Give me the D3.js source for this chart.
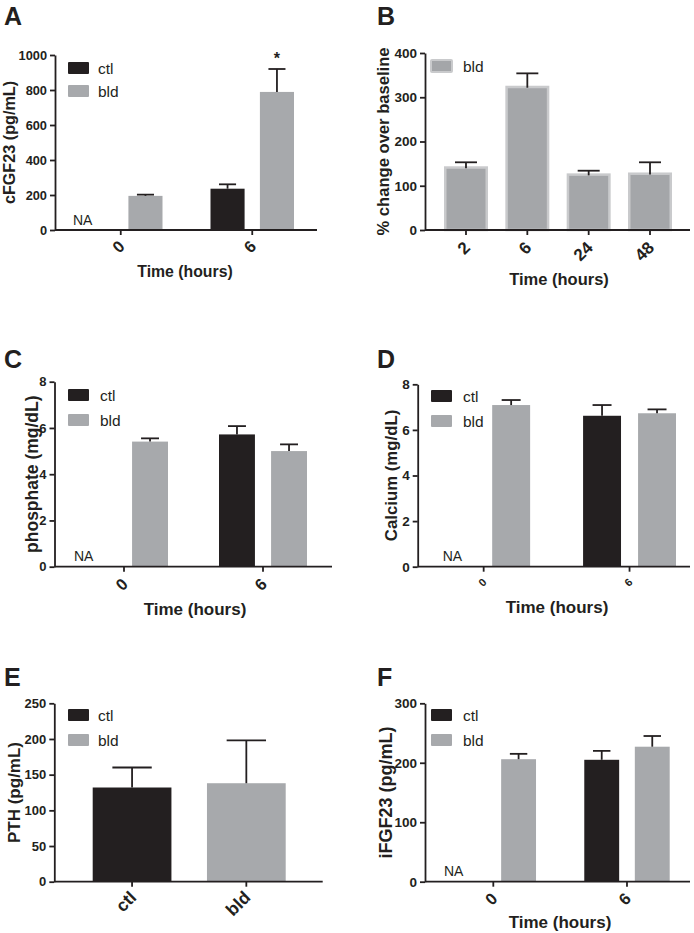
<!DOCTYPE html>
<html><head><meta charset="utf-8">
<script src="https://cdn.jsdelivr.net/npm/d3@7"></script>
<style>
body{margin:0;background:#fff}
svg{display:block}
text{font-family:"Liberation Sans",Arial,Helvetica,sans-serif;fill:#231f20}
</style>
</head><body>
<svg id="chart" width="694" height="933"></svg>
<script>
// ---------------- DATA ----------------
const seriesNames = ["ctl", "bld"];
const timeGroups = ["0", "6"];

// Panel A: cFGF23 (pg/mL)
const aCtl = [null, 236], aCtlErr = [null, 25];
const aBld = [195, 789],  aBldErr = [7, 131];
const aSig = ["", "*"];
const aTicks = [0, 200, 400, 600, 800, 1000];

// Panel B: % change over baseline (bld only)
const bCats = ["2", "6", "24", "48"];
const bVals = [144, 326, 128, 130];
const bErr  = [9, 28, 6, 23];
const bTicks = [0, 100, 200, 300, 400];

// Panel C: phosphate (mg/dL)
const cCtl = [null, 5.72], cCtlErr = [null, 0.36];
const cBld = [5.41, 5.0],  cBldErr = [0.14, 0.29];
const cTicks = [0, 2, 4, 6, 8];

// Panel D: Calcium (mg/dL)
const dCtl = [null, 6.62], dCtlErr = [null, 0.47];
const dBld = [7.09, 6.73], dBldErr = [0.22, 0.17];
const dTicks = [0, 2, 4, 6, 8];

// Panel E: PTH (pg/mL)
const eCats = ["ctl", "bld"];
const eVals = [132, 138];
const eErr  = [28, 60];
const eTicks = [0, 50, 100, 150, 200, 250];

// Panel F: iFGF23 (pg/mL)
const fCtl = [null, 205], fCtlErr = [null, 15];
const fBld = [206, 227],  fBldErr = [9, 18];
const fTicks = [0, 100, 200, 300];

const naLabel = "NA";
const xTitleText = "Time (hours)";

// ---------------- STYLE ----------------
const INK = "#231f20";
const COLORS = {ctl: "#231f20", bld: "#a7a9ac"};
const B_FILL = "#a4a6a9", B_EDGE = "#c9cacc";
const SW = 1.8;

const svg = d3.select("#chart");
svg.append("rect").attr("width", 694).attr("height", 933).attr("fill", "#fff");

function panelLetter(t, x, y) {
  svg.append("text").attr("x", x).attr("y", y).text(t)
    .attr("font-size", 25).attr("font-weight", "bold");
}

function yAxisDraw(g, y, ticks, cfg) {
  const ax = g.append("g").attr("transform", `translate(${cfg.axL},0)`)
    .style("color", INK)
    .call(d3.axisLeft(y).tickValues(ticks).tickFormat(d3.format("d"))
      .tickSize(5).tickSizeOuter(0).tickPadding(3));
  ax.selectAll("path,line").attr("stroke-width", SW);
  ax.selectAll("text").attr("font-size", cfg.ytFont).attr("font-weight", "bold")
    .attr("font-family", '"Liberation Sans",Arial,sans-serif').attr("fill", INK);
  const cy = (cfg.y0 + cfg.yTop) / 2;
  g.append("text").attr("transform", `translate(${cfg.yTitle.x},${cy}) rotate(-90)`)
    .attr("text-anchor", "middle").attr("font-size", cfg.yTitle.fs).attr("font-weight", "bold")
    .text(cfg.yTitle.text);
}

function xAxisDraw(g, x, cfg) {
  const ax = g.append("g").attr("transform", `translate(0,${cfg.y0})`)
    .style("color", INK)
    .call(d3.axisBottom(x).tickSize(5).tickSizeOuter(0));
  ax.select(".domain").remove();
  ax.selectAll("line").attr("stroke-width", SW);
  ax.selectAll("text")
    .attr("x", 0).attr("y", 0).attr("dy", "0.35em")
    .attr("transform", `translate(1,${cfg.xtOff}) rotate(-45)`)
    .attr("text-anchor", "end")
    .attr("font-size", cfg.xtFont).attr("font-weight", "bold")
    .attr("font-family", '"Liberation Sans",Arial,sans-serif').attr("fill", INK);
  g.append("line").attr("x1", cfg.axL).attr("x2", cfg.axR)
    .attr("y1", cfg.y0).attr("y2", cfg.y0).attr("stroke", INK).attr("stroke-width", SW);
  if (cfg.xTitle) {
    g.append("text").attr("x", cfg.xTitle.x).attr("y", cfg.xTitle.y)
      .attr("text-anchor", "middle").attr("font-size", cfg.xTitle.fs).attr("font-weight", "bold")
      .text(xTitleText);
  }
}

function legendDraw(g, cfg, names, boxed) {
  names.forEach((n, i) => {
    const yy = cfg.legend.y[i];
    const r = g.append("rect").attr("x", cfg.legend.x).attr("y", yy)
      .attr("width", 21).attr("height", 12).attr("rx", 1);
    if (boxed) r.attr("fill", B_FILL).attr("stroke", B_EDGE).attr("stroke-width", 2);
    else r.attr("fill", COLORS[n]);
    g.append("text").attr("x", cfg.legend.tx).attr("y", yy + 11.5)
      .attr("font-size", 15.5).text(n);
  });
}

function errBar(g, cx, halfCap, yTopV, yMean) {
  g.append("line").attr("x1", cx).attr("x2", cx).attr("y1", yMean).attr("y2", yTopV)
    .attr("stroke", INK).attr("stroke-width", SW);
  g.append("line").attr("x1", cx - halfCap).attr("x2", cx + halfCap).attr("y1", yTopV).attr("y2", yTopV)
    .attr("stroke", INK).attr("stroke-width", SW);
}

function groupedPanel(cfg, ctl, ctlErr, bld, bldErr, ticks, sig) {
  const g = svg.append("g");
  panelLetter(cfg.letter, cfg.lx, cfg.ly);
  const y = d3.scaleLinear().domain([0, ticks[ticks.length - 1]]).range([cfg.y0, cfg.yTop]);
  const x0 = d3.scaleBand().domain(timeGroups).range(cfg.band).paddingInner(cfg.pi).paddingOuter(0);
  const x1 = d3.scaleBand().domain(seriesNames).range([0, x0.bandwidth()]).paddingInner(0.31);
  const rows = [];
  timeGroups.forEach((grp, i) => {
    rows.push({grp, s: "ctl", v: ctl[i], e: ctlErr[i], sig: ""});
    rows.push({grp, s: "bld", v: bld[i], e: bldErr[i], sig: sig ? sig[i] : ""});
  });
  rows.forEach(r => {
    const bx = x0(r.grp) + x1(r.s);
    const bw = x1.bandwidth();
    if (r.v == null) {
      g.append("text").attr("x", bx + cfg.naDx).attr("y", cfg.y0 - 5.5)
        .attr("font-size", 14).text(naLabel);
      return;
    }
    g.append("rect").attr("x", bx).attr("width", bw)
      .attr("y", y(r.v)).attr("height", cfg.y0 - y(r.v)).attr("fill", COLORS[r.s]);
    errBar(g, bx + bw / 2, bw / 4, y(r.v + r.e), y(r.v));
    if (r.sig) {
      g.append("text").attr("x", bx + bw / 2).attr("y", y(r.v + r.e) - 5)
        .attr("text-anchor", "middle").attr("font-size", 16).attr("font-weight", "bold").text(r.sig);
    }
  });
  legendDraw(g, cfg, seriesNames, false);
  xAxisDraw(g, x0, cfg);
  yAxisDraw(g, y, ticks, cfg);
}

// ---------- Panel A ----------
groupedPanel({
  letter: "A", lx: 4, ly: 24.5,
  axL: 55, axR: 317, yTop: 55, y0: 230, band: [79, 294], pi: 0.365,
  ytFont: 12.8, xtFont: 16.5, xtOff: 13.5, naDx: -6,
  yTitle: {text: "cFGF23 (pg/mL)", x: 15, fs: 16.2},
  xTitle: {x: 185, y: 277, fs: 15.8},
  legend: {x: 68, y: [62, 85], tx: 98}
}, aCtl, aCtlErr, aBld, aBldErr, aTicks, aSig);

// ---------- Panel B ----------
(function () {
  const cfg = {
    letter: "B", lx: 377, ly: 24.5,
    axL: 425, axR: 690, yTop: 53, y0: 230,
    ytFont: 13.5, xtFont: 17, xtOff: 14.5,
    yTitle: {text: "% change over baseline", x: 389, fs: 16.6},
    xTitle: {x: 559, y: 285, fs: 16.5},
    legend: {x: 431, y: [60], tx: 463}
  };
  const g = svg.append("g");
  panelLetter(cfg.letter, cfg.lx, cfg.ly);
  const y = d3.scaleLinear().domain([0, bTicks[bTicks.length - 1]]).range([cfg.y0, cfg.yTop]);
  const x = d3.scaleBand().domain(bCats).range([444, 672]).paddingInner(0.283);
  bCats.forEach((c, i) => {
    const bx = x(c), bw = x.bandwidth();
    g.append("rect").attr("x", bx + 1.25).attr("width", bw - 2.5)
      .attr("y", y(bVals[i]) + 1.25).attr("height", cfg.y0 - y(bVals[i]) - 1.25)
      .attr("fill", B_FILL).attr("stroke", B_EDGE).attr("stroke-width", 2.5);
    errBar(g, bx + bw / 2, bw / 4, y(bVals[i] + bErr[i]), y(bVals[i]) + 2);
  });
  legendDraw(g, cfg, ["bld"], true);
  xAxisDraw(g, x, cfg);
  yAxisDraw(g, y, bTicks, cfg);
})();

// ---------- Panel C ----------
groupedPanel({
  letter: "C", lx: 4, ly: 367.5,
  axL: 54.5, axR: 332, yTop: 381.7, y0: 566.7, band: [80, 307], pi: 0.367,
  ytFont: 13, xtFont: 16.5, xtOff: 14.5, naDx: -6,
  yTitle: {text: "phosphate (mg/dL)", x: 38, fs: 17.5},
  xTitle: {x: 195, y: 615, fs: 17},
  legend: {x: 68, y: [389, 414], tx: 100}
}, cCtl, cCtlErr, cBld, cBldErr, cTicks, null);

// ---------- Panel D ----------
groupedPanel({
  letter: "D", lx: 377, ly: 367.5,
  axL: 417.7, axR: 690, yTop: 384.3, y0: 566.7, band: [437.2, 676], pi: 0.363,
  ytFont: 13.5, xtFont: 11, xtOff: 13.5, naDx: 5.5,
  yTitle: {text: "Calcium (mg/dL)", x: 397, fs: 16.8},
  xTitle: {x: 557, y: 613, fs: 17},
  legend: {x: 431, y: [390, 415], tx: 463}
}, dCtl, dCtlErr, dBld, dBldErr, dTicks, null);

// ---------- Panel E ----------
(function () {
  const cfg = {
    letter: "E", lx: 4, ly: 686,
    axL: 54.3, axR: 322.7, yTop: 703.3, y0: 881.7,
    ytFont: 13, xtFont: 17.5, xtOff: 12.5,
    yTitle: {text: "PTH (pg/mL)", x: 19.5, fs: 17},
    xTitle: null,
    legend: {x: 68, y: [709, 734], tx: 98}
  };
  const g = svg.append("g");
  panelLetter(cfg.letter, cfg.lx, cfg.ly);
  const y = d3.scaleLinear().domain([0, eTicks[eTicks.length - 1]]).range([cfg.y0, cfg.yTop]);
  const x = d3.scaleBand().domain(eCats).range([92.7, 285.7]).paddingInner(0.311);
  eCats.forEach((c, i) => {
    const bx = x(c), bw = x.bandwidth();
    g.append("rect").attr("x", bx).attr("width", bw)
      .attr("y", y(eVals[i])).attr("height", cfg.y0 - y(eVals[i])).attr("fill", COLORS[c]);
    errBar(g, bx + bw / 2, bw / 4, y(eVals[i] + eErr[i]), y(eVals[i]));
  });
  legendDraw(g, cfg, seriesNames, false);
  xAxisDraw(g, x, cfg);
  yAxisDraw(g, y, eTicks, cfg);
})();

// ---------- Panel F ----------
groupedPanel({
  letter: "F", lx: 377, ly: 685.5,
  axL: 425, axR: 690, yTop: 703.3, y0: 881.7, band: [450.6, 669.7], pi: 0.361,
  ytFont: 13.5, xtFont: 16.5, xtOff: 14, naDx: -6.6,
  yTitle: {text: "iFGF23 (pg/mL)", x: 392, fs: 18},
  xTitle: {x: 560, y: 928, fs: 17},
  legend: {x: 431, y: [709, 734], tx: 463}
}, fCtl, fCtlErr, fBld, fBldErr, fTicks, null);
</script>
</body></html>
